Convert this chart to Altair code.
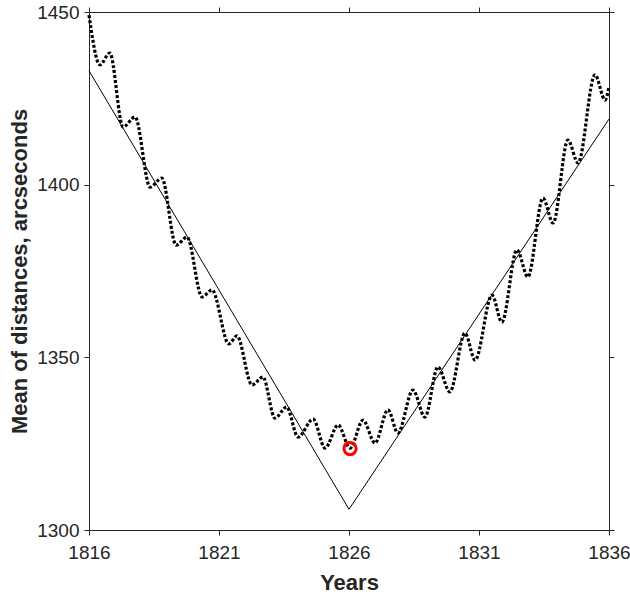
import altair as alt
import pandas as pd

# Mean of distances (arcseconds) per year: oscillating series
years = [1816.0, 1816.42, 1816.8, 1817.31, 1817.77, 1818.35, 1818.8, 1819.35,
         1819.77, 1820.35, 1820.73, 1821.38, 1821.69, 1822.27, 1822.69, 1823.15,
         1823.6, 1824.04, 1824.62, 1825.08, 1825.58, 1826.04, 1826.54, 1827.0,
         1827.5, 1827.88, 1828.46, 1828.92, 1829.42, 1829.88, 1830.46, 1830.85,
         1831.5, 1831.88, 1832.46, 1832.88, 1833.46, 1833.85, 1834.42, 1834.81,
         1835.46, 1835.85, 1836.0]
distances = [1449.1, 1434.7, 1438.1, 1416.7, 1419.6, 1399.3, 1401.9, 1382.5,
             1384.8, 1367.5, 1369.5, 1353.9, 1356.2, 1342.0, 1344.3, 1332.4,
             1335.6, 1326.9, 1332.1, 1323.7, 1330.4, 1323.7, 1331.8, 1325.2,
             1334.8, 1328.1, 1340.5, 1332.7, 1347.2, 1340.0, 1357.0, 1349.2,
             1368.0, 1360.2, 1381.1, 1373.3, 1396.1, 1388.9, 1412.9, 1406.3,
             1431.8, 1424.5, 1428.3]

# V-shaped trend
trend_years = [1816, 1826, 1836]
trend_values = [1433.0, 1306.0, 1419.0]

# Highlighted minimum
min_year = [1826.04]
min_value = [1323.6]

x_ticks = [1816, 1821, 1826, 1831, 1836]
y_ticks = [1300, 1350, 1400, 1450]

series = pd.DataFrame({"year": years, "dist": distances})
trend = pd.DataFrame({"year": trend_years, "dist": trend_values})
marker = pd.DataFrame({"year": min_year, "dist": min_value})

FONT = "Liberation Sans"
INK = "#262626"

x_scale = alt.Scale(domain=[1816, 1836], nice=False, zero=False)
y_scale = alt.Scale(domain=[1300, 1450], nice=False, zero=False)

axis_common = dict(
    grid=False, tickSize=5, tickColor=INK, domainColor=INK, labelFlush=False,
    labelFont=FONT, labelFontSize=19, labelColor=INK,
    titleFont=FONT, titleColor=INK, titleFontWeight="bold", titleFontSize=22,
)

x_axis = alt.Axis(values=x_ticks, format="d", title="Years",
                  labelPadding=8, titlePadding=10, **axis_common)
y_axis = alt.Axis(values=y_ticks, format="d", title="Mean of distances, arcseconds",
                  labelPadding=5, titlePadding=5, **axis_common)

x_enc = alt.X("year:Q", scale=x_scale, axis=x_axis)
y_enc = alt.Y("dist:Q", scale=y_scale, axis=y_axis)
x_plain = alt.X("year:Q", scale=x_scale, axis=None)
y_plain = alt.Y("dist:Q", scale=y_scale, axis=None)

trend_line = alt.Chart(trend).mark_line(color="black", strokeWidth=1).encode(x=x_enc, y=y_enc)

dotted = alt.Chart(series).mark_line(
    color="black", strokeWidth=3.2, strokeDash=[3, 2], strokeCap="butt",
    interpolate="monotone",
).encode(x=x_plain, y=y_plain)

circle = alt.Chart(marker).mark_point(
    shape="circle", filled=False, color="#ff0000", size=150, strokeWidth=3, opacity=1,
).encode(x=x_plain, y=y_plain)

# Mirror axes on top and right (ticks only) to box the plot
frame_axis = dict(grid=False, tickSize=5, tickColor=INK, domainColor=INK,
                  labels=False, title=None)
mirror = alt.Chart(trend).mark_point(opacity=0).encode(
    x=alt.X("year:Q", scale=x_scale,
            axis=alt.Axis(orient="top", values=x_ticks, **frame_axis)),
    y=alt.Y("dist:Q", scale=y_scale,
            axis=alt.Axis(orient="right", values=y_ticks, **frame_axis)),
)

chart = (
    alt.layer(trend_line, dotted, circle, mirror)
    .resolve_axis(x="independent", y="independent")
    .properties(
        width=520, height=518,
        autosize=alt.AutoSizeParams(type="none"),
        padding={"left": 89, "top": 12, "right": 21, "bottom": 65},
        background="white",
    )
    .configure_view(stroke=None)
)

chart.save("out.html", embed_options={"renderer": "svg", "actions": False})
